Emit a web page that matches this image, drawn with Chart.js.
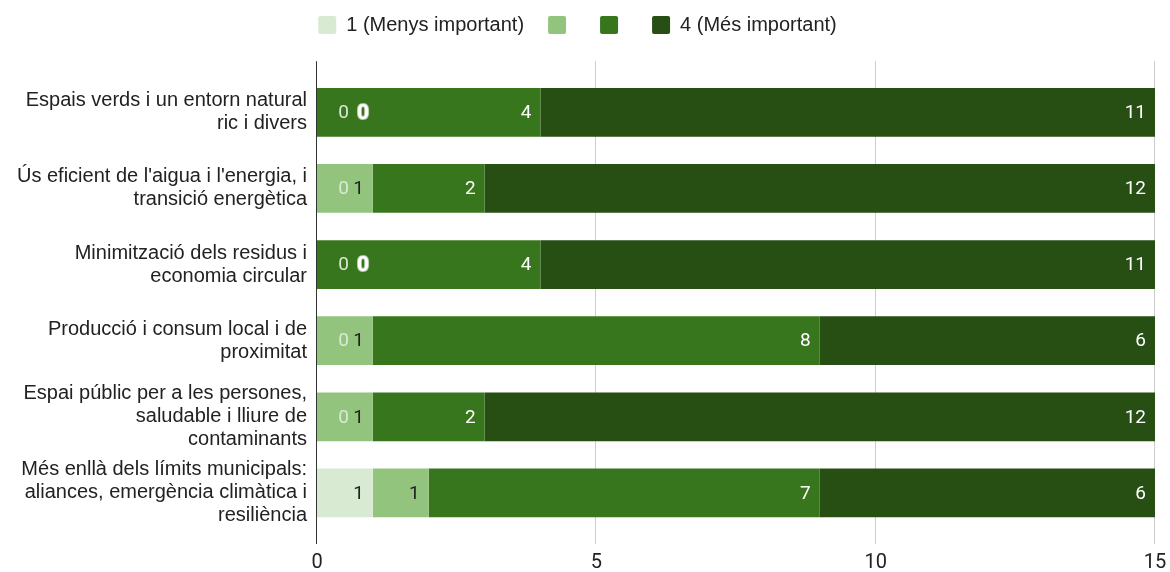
<!DOCTYPE html>
<html>
<head>
<meta charset="utf-8">
<script src="https://cdn.jsdelivr.net/npm/chart.js@4/dist/chart.umd.min.js"></script>
<style>
  body { margin: 0; background: #fff; }
  #wrap { width: 1170px; height: 572px; }
</style>
</head>
<body>
<div id="wrap"><canvas id="chart"></canvas></div>
<script>
const categories = [
  ['Espais verds i un entorn natural', 'ric i divers'],
  ["Ús eficient de l'aigua i l'energia, i", 'transició energètica'],
  ['Minimització dels residus i', 'economia circular'],
  ['Producció i consum local i de', 'proximitat'],
  ['Espai públic per a les persones,', 'saludable i lliure de', 'contaminants'],
  ['Més enllà dels límits municipals:', 'aliances, emergència climàtica i', 'resiliència']
];
const seriesNames = ['1 (Menys important)', '', '', '4 (Més important)'];
const rating1 = [0, 0, 0, 0, 0, 1];
const rating2 = [0, 1, 0, 1, 1, 1];
const rating3 = [4, 2, 4, 8, 2, 7];
const rating4 = [11, 12, 11, 6, 12, 6];
const xTicks = [0, 5, 10, 15];

const colors = ['#d9ead3', '#93c47d', '#38761d', '#274e13'];
const labelColors = ['#222222', '#222222', '#ffffff', '#ffffff'];

Chart.defaults.font.family = "'Liberation Sans', Arial, sans-serif";
Chart.defaults.font.size = 20;
Chart.defaults.color = '#222222';

// value labels at the end of each segment (zero values pushed next to the axis like the original)
const barLabels = {
  id: 'barLabels',
  afterDatasetsDraw(chart) {
    const ctx = chart.ctx;
    const x0 = chart.scales.x.getPixelForValue(0);
    ctx.save();
    ctx.textAlign = 'right';
    ctx.textBaseline = 'middle';
    chart.data.datasets.forEach((ds, i) => {
      chart.getDatasetMeta(i).data.forEach((bar, j) => {
        const v = ds.data[j];
        if (v > 0) {
          ctx.font = "19px Roboto";
          ctx.fillStyle = labelColors[i];
          ctx.fillText(String(v), bar.x - 9, bar.y + 1);
        } else if (i === 0) {
          ctx.font = "19px Roboto";
          ctx.fillStyle = '#d9ead3';
          ctx.fillText('0', x0 + 32, bar.y + 1);
        } else if (i === 1) {
          ctx.font = "bold 21px Roboto";
          ctx.lineWidth = 2;
          ctx.strokeStyle = 'rgba(255,255,255,0.6)';
          ctx.strokeText('0', x0 + 52, bar.y + 1);
          ctx.fillStyle = '#ffffff';
          ctx.fillText('0', x0 + 52, bar.y + 1);
        }
      });
    });
    ctx.restore();
  }
};

// grid lines and the base line reach a bit beyond the bars, as in the original
const axisLines = {
  id: 'axisLines',
  beforeDatasetsDraw(chart) {
    const { ctx, chartArea, scales } = chart;
    ctx.save();
    ctx.strokeStyle = '#cccccc';
    ctx.lineWidth = 1;
    xTicks.slice(1).forEach(t => {
      const x = Math.round(scales.x.getPixelForValue(t)) - 0.5;
      ctx.beginPath();
      ctx.moveTo(x, chartArea.top - 13);
      ctx.lineTo(x, chartArea.bottom + 13);
      ctx.stroke();
    });
    ctx.restore();
  },
  afterDatasetsDraw(chart) {
    const { ctx, chartArea, scales } = chart;
    const x = Math.round(scales.x.getPixelForValue(0)) - 0.5;
    ctx.save();
    ctx.strokeStyle = '#333333';
    ctx.lineWidth = 1;
    ctx.beginPath();
    ctx.moveTo(x, chartArea.top - 13);
    ctx.lineTo(x, chartArea.bottom + 13);
    ctx.stroke();
    ctx.restore();
  }
};

const datasets = [rating1, rating2, rating3, rating4].map((data, i) => ({
  label: seriesNames[i],
  data,
  backgroundColor: colors[i],
  borderWidth: 0,
  barPercentage: 0.64,
  categoryPercentage: 1
}));

new Chart(document.getElementById('chart'), {
  type: 'bar',
  data: { labels: categories, datasets },
  plugins: [axisLines, barLabels],
  options: {
    indexAxis: 'y',
    responsive: true,
    maintainAspectRatio: false,
    animation: false,
    layout: { padding: { left: 0, right: 15, top: -9, bottom: 0 } },
    plugins: {
      tooltip: { enabled: false },
      legend: {
        position: 'top',
        labels: {
          boxWidth: 18,
          boxHeight: 18,
          padding: 24,
          useBorderRadius: true,
          borderRadius: 2,
          color: '#222222',
          font: { size: 20 }
        }
      },
      // empty spacer between legend and plot
      subtitle: {
        display: true,
        text: '',
        weight: 500,
        font: { size: 1 },
        padding: { top: 28, bottom: 0 }
      }
    },
    scales: {
      x: {
        stacked: true,
        min: 0,
        max: 15,
        afterBuildTicks: s => { s.ticks = xTicks.map(v => ({ value: v })); },
        afterFit: s => { s.height = 41; s.paddingRight = 0; s.paddingLeft = 0; },
        grid: { display: false, drawTicks: false },
        border: { display: false },
        ticks: { padding: 20, color: '#222222', font: { family: 'Roboto', size: 20 } }
      },
      y: {
        stacked: true,
        afterFit: s => { s.width = 317; },
        grid: { display: false },
        border: { display: false },
        ticks: { padding: 2, color: '#222222', font: { size: 20, lineHeight: 1.15 } }
      }
    }
  }
});
</script>
</body>
</html>
